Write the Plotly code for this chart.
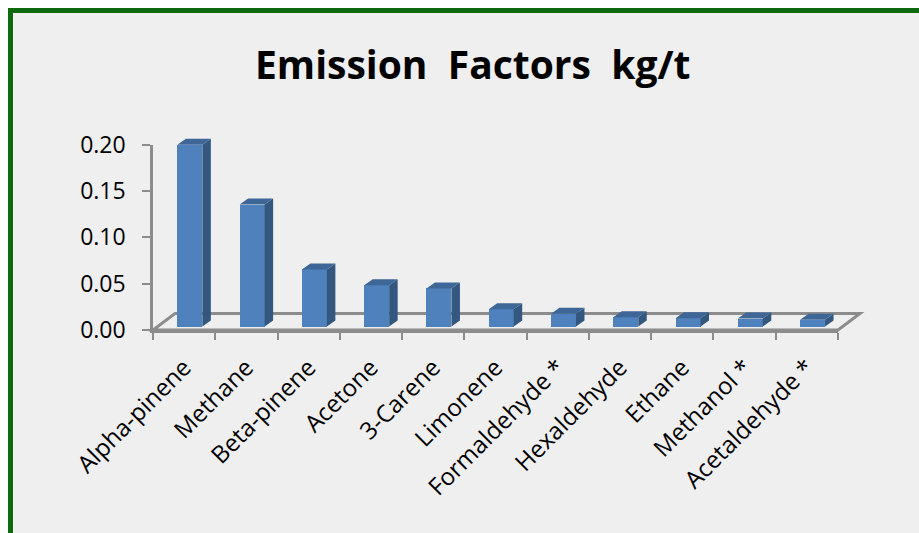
import plotly.graph_objects as go

# ---- data -------------------------------------------------------------
categories = ["Alpha-pinene", "Methane", "Beta-pinene", "Acetone", "3-Carene",
              "Limonene", "Formaldehyde *", "Hexaldehyde", "Ethane",
              "Methanol *", "Acetaldehyde *"]
values = [0.196, 0.1315, 0.0615, 0.0445, 0.041, 0.0186, 0.0137, 0.0100,
          0.0090, 0.0085, 0.0074]
y_ticks = [0.00, 0.05, 0.10, 0.15, 0.20]

# ---- page geometry (pixels) ------------------------------------------
W, H = 919, 533
AX_LEFT, AX_RIGHT = 153, 838          # front edge of the floor
AX_BOTTOM = 330                       # y = 0 on the front plane
Y_MAX = 0.20
PX_PER_UNIT = 927.5                   # vertical pixels per kg/t
CAT_PX = (AX_RIGHT - AX_LEFT) / len(categories)

def px_x(p):
    return p / CAT_PX                 # pixels -> category units

def px_y(p):
    return p / PX_PER_UNIT            # pixels -> value units

# 3-D look: floor depth, bar position inside the floor, bar depth
FLOOR_DX, FLOOR_DY = px_x(22), px_y(16.5)
BAR_SHIFT_X, BAR_BASE = px_x(5.7), px_y(3.5)
BAR_W = px_x(25)
BAR_DX, BAR_DY = px_x(8.5), px_y(6)

FRONT = "#4f81bd"
SIDE = "#34577f"
TOP = "#3e6696"
GRID = "#8c8c8c"
BG = "#efefef"

fig = go.Figure()

xs = [i + BAR_SHIFT_X for i in range(len(categories))]
fig.add_trace(go.Bar(x=xs, y=values, base=BAR_BASE, width=BAR_W,
                     marker=dict(color=FRONT, line=dict(width=0)),
                     hoverinfo="skip", showlegend=False))

side_x, side_y, top_x, top_y = [], [], [], []
for xc, v in zip(xs, values):
    xl, xr = xc - BAR_W / 2, xc + BAR_W / 2
    yb, yt = BAR_BASE, BAR_BASE + v
    side_x += [xr, xr, xr + BAR_DX, xr + BAR_DX, xr, None]
    side_y += [yb, yt, yt + BAR_DY, yb + BAR_DY, yb, None]
    top_x += [xl, xr, xr + BAR_DX, xl + BAR_DX, xl, None]
    top_y += [yt, yt, yt + BAR_DY, yt + BAR_DY, yt, None]

fig.add_trace(go.Scatter(x=side_x, y=side_y, mode="lines", fill="toself",
                         fillcolor=SIDE, line=dict(width=0),
                         hoverinfo="skip", showlegend=False))
fig.add_trace(go.Scatter(x=top_x, y=top_y, mode="lines", fill="toself",
                         fillcolor=TOP, line=dict(width=0),
                         hoverinfo="skip", showlegend=False))

# invisible trace that carries the category labels of the front axis
fig.add_trace(go.Scatter(x=categories, y=[0] * len(categories), mode="markers",
                         marker=dict(opacity=0), xaxis="x2", yaxis="y2",
                         hoverinfo="skip", showlegend=False))

# floor outline
x_l, x_r = -0.5, len(categories) - 0.5
floor_path = (f"M {x_l},0 L {x_r},0 L {x_r + FLOOR_DX},{FLOOR_DY} "
              f"L {x_l + FLOOR_DX},{FLOOR_DY} Z")

shapes = [
    dict(type="rect", xref="paper", yref="paper", layer="below",
         x0=10.5 / W, x1=1.05, y0=-0.05, y1=1 - 10.5 / H,
         fillcolor=BG, line=dict(color="#0f6a0f", width=5)),
    dict(type="path", xref="x", yref="y", layer="below", path=floor_path,
         line=dict(color=GRID, width=3)),
]

y_font = dict(family="Open Sans", size=23, color="#000000")
x_font = dict(family="Open Sans", size=24, color="#000000")

fig.update_layout(
    template="none",
    width=W, height=H,
    margin=dict(l=0, r=0, t=0, b=0, pad=0),
    paper_bgcolor="#ffffff",
    plot_bgcolor="rgba(0,0,0,0)",
    shapes=shapes,
    bargap=0,
    xaxis=dict(domain=[0, 1], range=[-0.5 - px_x(AX_LEFT), -0.5 + px_x(W - AX_LEFT)],
               visible=False, fixedrange=True, automargin=False),
    yaxis=dict(domain=[0, 1], range=[-px_y(H - AX_BOTTOM), px_y(AX_BOTTOM)],
               visible=False, fixedrange=True, automargin=False),
    xaxis2=dict(domain=[AX_LEFT / W, AX_RIGHT / W], anchor="y2", type="category",
                categoryorder="array", categoryarray=categories,
                range=[-0.5, len(categories) - 0.5], tickson="boundaries",
                ticks="outside", ticklen=7, tickwidth=2, tickcolor=GRID,
                showline=True, linecolor=GRID, linewidth=3,
                showgrid=False, zeroline=False, tickangle=-45,
                tickfont=x_font, ticklabelstandoff=11, fixedrange=True,
                automargin=False),
    yaxis2=dict(domain=[1 - AX_BOTTOM / H, 1 - (AX_BOTTOM - Y_MAX * PX_PER_UNIT) / H],
                anchor="x2", range=[0, Y_MAX], tickvals=y_ticks,
                ticktext=[f"{t:.2f}" for t in y_ticks],
                ticks="outside", ticklen=8, tickwidth=2, tickcolor=GRID,
                showline=True, linecolor=GRID, linewidth=2.5,
                showgrid=False, zeroline=False, tickfont=y_font,
                ticklabelstandoff=12, fixedrange=True, automargin=False),
    annotations=[dict(text="Emission\u00a0 Factors\u00a0 kg/t", xref="paper",
                      yref="paper", x=472 / W, y=1 - 63 / H, xanchor="center",
                      yanchor="middle", showarrow=False,
                      font=dict(family="Open Sans", size=39, color="#000000",
                                weight="bold"))],
)

fig.write_html("out.html")
